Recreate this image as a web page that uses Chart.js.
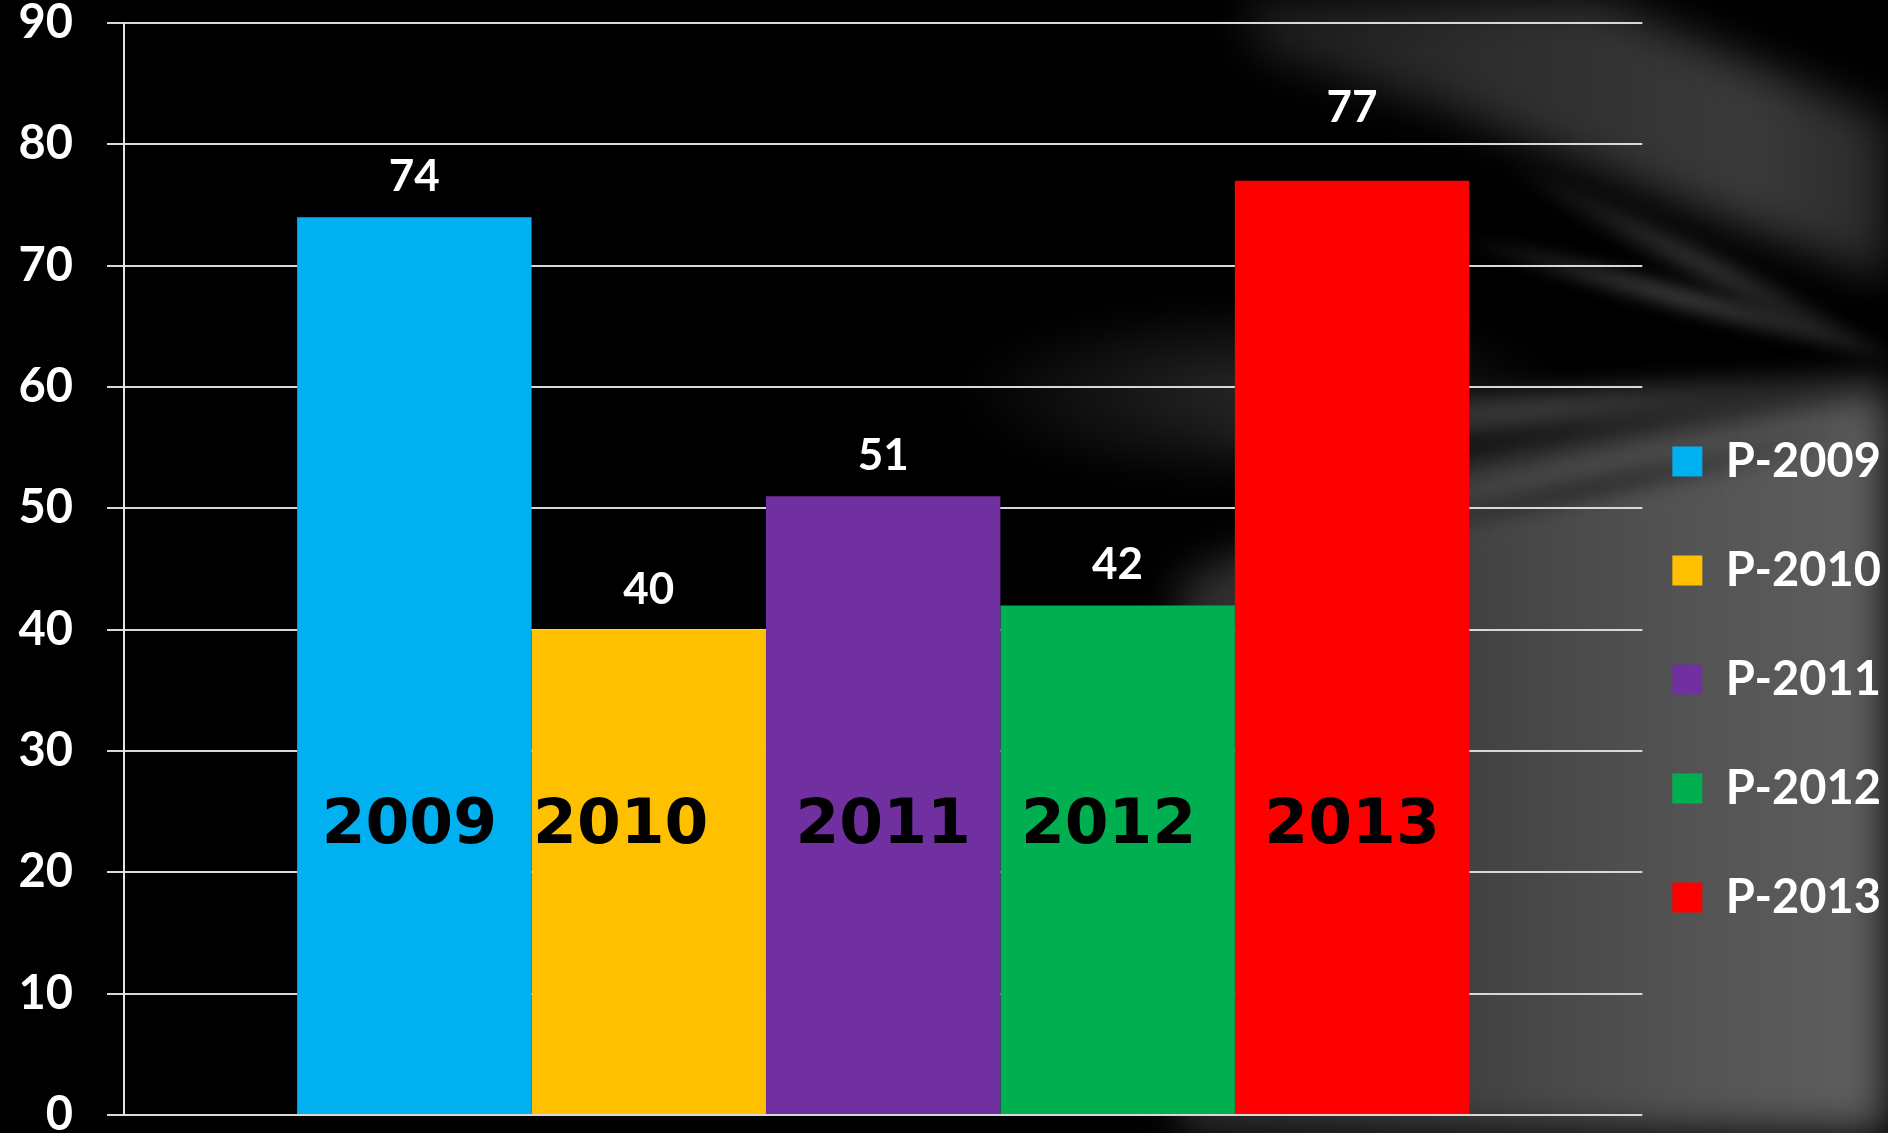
<!DOCTYPE html>
<html>
<head>
<meta charset="utf-8">
<script src="https://cdn.jsdelivr.net/npm/chart.js@4.4.1/dist/chart.umd.min.js"></script>
<style>
  html, body { margin: 0; padding: 0; background: #000; }
  #wrap { position: relative; width: 1888px; height: 1133px; overflow: hidden; background: #000; }
  .layer { position: absolute; left: 0; top: 0; width: 1888px; height: 1133px; }
  .streak { position: absolute; border-radius: 50%; }
  #chartBox { position: absolute; left: 0; top: 0; width: 1888px; height: 1133px; }
</style>
</head>
<body>
<div id="wrap">
  <!-- backdrop: grey swooshes fanning in from the right edge -->
  <div class="layer" style="filter:blur(22px)">
    <div class="layer" style="clip-path:polygon(1250px 0, 1600px 0, 1888px 120px, 1888px 280px, 1700px 210px, 1450px 110px, 1250px 50px);background:linear-gradient(90deg,#1c1c1c 1250px,#2e2e2e 1500px,#3a3a3a 1750px,#2a2a2a 1888px)"></div>
  </div>
  <div class="layer" style="filter:blur(20px)">
    <div class="layer" style="clip-path:polygon(1180px 580px, 1464px 460px, 1888px 385px, 1888px 1133px, 1180px 1133px);background:linear-gradient(90deg,#2e2e2e 1200px,#404040 1450px,#535353 1680px,#5f5f5f 1888px)"></div>
  </div>
  <div class="streak" style="left:950px;top:300px;width:620px;height:190px;background:radial-gradient(closest-side,rgba(48,48,48,0.85),rgba(0,0,0,0));filter:blur(16px)"></div>
  <div class="streak" style="left:1180px;top:350px;width:720px;height:56px;background:radial-gradient(closest-side,rgba(95,95,95,0.7),rgba(0,0,0,0));transform:rotate(-5deg);transform-origin:100% 50%;filter:blur(9px)"></div>
  <div class="streak" style="left:1440px;top:342px;width:470px;height:34px;background:radial-gradient(closest-side,rgba(110,110,110,0.6),rgba(0,0,0,0));transform:rotate(15deg);transform-origin:100% 50%;filter:blur(7px)"></div>
  <div class="streak" style="left:1460px;top:345px;width:440px;height:40px;background:radial-gradient(closest-side,rgba(100,100,100,0.55),rgba(0,0,0,0));transform:rotate(27deg);transform-origin:100% 50%;filter:blur(8px)"></div>
  <div class="streak" style="left:1300px;top:395px;width:620px;height:70px;background:radial-gradient(closest-side,rgba(85,85,85,0.65),rgba(0,0,0,0));transform:rotate(-10deg);transform-origin:100% 50%;filter:blur(10px)"></div>
  <div class="streak" style="left:1260px;top:470px;width:640px;height:40px;background:radial-gradient(closest-side,rgba(20,20,20,0.7),rgba(0,0,0,0));transform:rotate(-12deg);filter:blur(9px)"></div>
  <div id="chartBox"><canvas id="myChart"></canvas></div>
</div>
<script>
// data
const categories = ['']
const seriesNames = ['P-2009', 'P-2010', 'P-2011', 'P-2012', 'P-2013']
const yearLabels = ['2009', '2010', '2011', '2012', '2013']
const values = [74, 40, 51, 42, 77]
const barColors = ['#00B0F0', '#FFC000', '#7030A0', '#00B050', '#FF0000']
const yMin = 0
const yMax = 90
const yStep = 10

const fontFamily = "Lato, 'Open Sans', sans-serif"

// value on top + year inside each bar
const barTextPlugin = {
    id: 'barText',
    afterDatasetsDraw(chart, args, opts) {
        const ctx = chart.ctx
        const yScale = chart.scales.y
        ctx.save()
        ctx.textAlign = 'center'
        ctx.textBaseline = 'alphabetic'
        chart.data.datasets.forEach((ds, i) => {
            const bar = chart.getDatasetMeta(i).data[0]
            // value
            ctx.fillStyle = '#ffffff'
            ctx.font = 'bold 44px ' + fontFamily
            ctx.fillText(String(ds.data[0]), bar.x, bar.y - 26 - (opts.valueLift[i] || 0))
            // year
            ctx.fillStyle = '#000000'
            ctx.font = "bold 63px 'DejaVu Sans', sans-serif"
            ctx.fillText(yearLabels[i], bar.x + (opts.yearShift[i] || 0), yScale.getPixelForValue(opts.yearAt))
        })
        ctx.restore()
    }
}

const dataChart = {
    labels: categories,
    datasets: seriesNames.map((name, i) => ({
        label: name,
        data: [values[i]],
        backgroundColor: barColors[i],
        borderWidth: 0,
    }))
}

const config = {
    type: 'bar',
    data: dataChart,
    plugins: [barTextPlugin],
    options: {
        responsive: true,
        maintainAspectRatio: false,
        animation: false,
        layout: { padding: { right: -3 } },
        datasets: {
            bar: { categoryPercentage: 0.772, barPercentage: 1.0 }
        },
        plugins: {
            tooltip: { enabled: false },
            barText: { yearAt: 22.4, yearShift: [-5, -28, 0, -9, 0], valueLift: [0, 0, 0, 0, 33] },
            legend: {
                position: 'right',
                align: 'center',
                title: { display: true, text: '', font: { size: 10, lineHeight: 1 }, padding: { top: 248, bottom: 0 } },
                labels: {
                    color: '#ffffff',
                    boxWidth: 30,
                    boxHeight: 30,
                    padding: 30,
                    font: { family: fontFamily, size: 47, weight: 'bold', lineHeight: 1.681 },
                    // text as array -> row height follows lineHeight
                    generateLabels(chart) {
                        const items = Chart.defaults.plugins.legend.labels.generateLabels(chart)
                        items.forEach(it => { it.text = [it.text]; it.lineWidth = 0 })
                        return items
                    }
                }
            }
        },
        scales: {
            x: { display: false },
            y: {
                min: yMin,
                max: yMax,
                ticks: {
                    stepSize: yStep,
                    color: '#ffffff',
                    padding: 34,
                    font: { family: fontFamily, size: 47, weight: 'bold' }
                },
                grid: { color: '#d8d8d8', lineWidth: 2, tickLength: 17, drawTicks: true },
                border: { display: true, color: '#e4e4e4', width: 2 },
                afterFit(axis) {
                    axis.width = 124
                    axis.paddingTop = 23
                    axis.paddingBottom = 18
                }
            }
        }
    }
}

const myChart = new Chart(document.getElementById('myChart'), config)
</script>
</body>
</html>
